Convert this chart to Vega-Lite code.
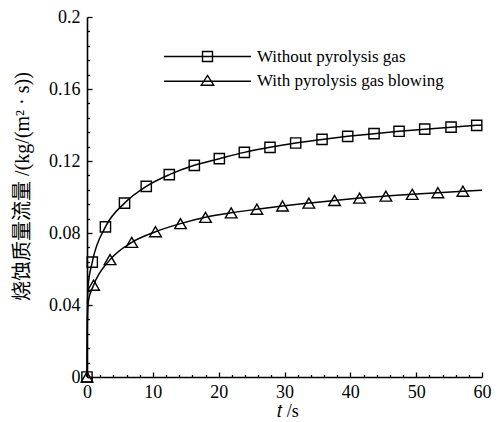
{
  "$schema": "https://vega.github.io/schema/vega-lite/v6.json",
  "width": 395,
  "height": 360,
  "autosize": "none",
  "padding": {"left": 87, "top": 17, "right": 17, "bottom": 45},
  "background": "white",
  "config": {
    "view": {"stroke": null},
    "font": "Liberation Serif",
    "axis": {
      "grid": false,
      "tickColor": "black",
      "tickWidth": 1.3,
      "domainColor": "black",
      "domainWidth": 1.6,
      "labelOverlap": false,
      "labelFlush": false,
      "labelBound": false,
      "labelFont": "Liberation Serif",
      "labelFontSize": 18,
      "labelColor": "black",
      "titleFontWeight": "normal",
      "titleColor": "black"
    }
  },
  "data": {
    "values": [
      {"series": "Without pyrolysis gas", "t": 0, "m": 0, "marker": true},
      {"series": "Without pyrolysis gas", "t": 0.05, "m": 0.035, "marker": false},
      {"series": "Without pyrolysis gas", "t": 0.15, "m": 0.05, "marker": false},
      {"series": "Without pyrolysis gas", "t": 0.8, "m": 0.0638, "marker": true},
      {"series": "Without pyrolysis gas", "t": 2.8, "m": 0.0834, "marker": true},
      {"series": "Without pyrolysis gas", "t": 5.7, "m": 0.0966, "marker": true},
      {"series": "Without pyrolysis gas", "t": 9.0, "m": 0.1059, "marker": true},
      {"series": "Without pyrolysis gas", "t": 12.5, "m": 0.1124, "marker": true},
      {"series": "Without pyrolysis gas", "t": 16.3, "m": 0.1176, "marker": true},
      {"series": "Without pyrolysis gas", "t": 20.1, "m": 0.1213, "marker": true},
      {"series": "Without pyrolysis gas", "t": 23.9, "m": 0.1248, "marker": true},
      {"series": "Without pyrolysis gas", "t": 27.8, "m": 0.1276, "marker": true},
      {"series": "Without pyrolysis gas", "t": 31.7, "m": 0.1300, "marker": true},
      {"series": "Without pyrolysis gas", "t": 35.7, "m": 0.1320, "marker": true},
      {"series": "Without pyrolysis gas", "t": 39.6, "m": 0.1337, "marker": true},
      {"series": "Without pyrolysis gas", "t": 43.6, "m": 0.1352, "marker": true},
      {"series": "Without pyrolysis gas", "t": 47.4, "m": 0.1365, "marker": true},
      {"series": "Without pyrolysis gas", "t": 51.3, "m": 0.1377, "marker": true},
      {"series": "Without pyrolysis gas", "t": 55.3, "m": 0.1388, "marker": true},
      {"series": "Without pyrolysis gas", "t": 59.2, "m": 0.1398, "marker": true},
      {"series": "Without pyrolysis gas", "t": 60, "m": 0.1400, "marker": false},
      {"series": "With pyrolysis gas blowing", "t": 0, "m": 0, "marker": true},
      {"series": "With pyrolysis gas blowing", "t": 0.05, "m": 0.03, "marker": false},
      {"series": "With pyrolysis gas blowing", "t": 0.2, "m": 0.042, "marker": false},
      {"series": "With pyrolysis gas blowing", "t": 1.0, "m": 0.0510, "marker": true},
      {"series": "With pyrolysis gas blowing", "t": 3.5, "m": 0.0652, "marker": true},
      {"series": "With pyrolysis gas blowing", "t": 6.8, "m": 0.0748, "marker": true},
      {"series": "With pyrolysis gas blowing", "t": 10.4, "m": 0.0807, "marker": true},
      {"series": "With pyrolysis gas blowing", "t": 14.2, "m": 0.0852, "marker": true},
      {"series": "With pyrolysis gas blowing", "t": 18.0, "m": 0.0887, "marker": true},
      {"series": "With pyrolysis gas blowing", "t": 21.9, "m": 0.0912, "marker": true},
      {"series": "With pyrolysis gas blowing", "t": 25.8, "m": 0.0932, "marker": true},
      {"series": "With pyrolysis gas blowing", "t": 29.7, "m": 0.0950, "marker": true},
      {"series": "With pyrolysis gas blowing", "t": 33.7, "m": 0.0966, "marker": true},
      {"series": "With pyrolysis gas blowing", "t": 37.6, "m": 0.0981, "marker": true},
      {"series": "With pyrolysis gas blowing", "t": 41.4, "m": 0.0994, "marker": true},
      {"series": "With pyrolysis gas blowing", "t": 45.4, "m": 0.1005, "marker": true},
      {"series": "With pyrolysis gas blowing", "t": 49.4, "m": 0.1015, "marker": true},
      {"series": "With pyrolysis gas blowing", "t": 53.3, "m": 0.1024, "marker": true},
      {"series": "With pyrolysis gas blowing", "t": 57.1, "m": 0.1032, "marker": true},
      {"series": "With pyrolysis gas blowing", "t": 60, "m": 0.1037, "marker": false}
    ]
  },
  "resolve": {"scale": {"x": "independent", "y": "independent"}},
  "layer": [
    {
      "mark": {"type": "line", "interpolate": "monotone", "strokeWidth": 1.5},
      "encoding": {
        "x": {
          "field": "t",
          "type": "quantitative",
          "scale": {"domain": [0, 60], "nice": false, "zero": false},
          "axis": {
            "orient": "bottom",
            "title": "𝑡 /s",
            "values": [0, 10, 20, 30, 40, 50, 60],
            "tickSize": -5,
            "labelPadding": 11,
            "titleFont": "Liberation Serif",
            "titleFontSize": 18,
            "titleX": 200.5,
            "titleY": 25,
            "titleBaseline": "top",
            "titleAlign": "center"
          }
        },
        "y": {
          "field": "m",
          "type": "quantitative",
          "scale": {"domain": [0, 0.2], "nice": false},
          "axis": {
            "orient": "left",
            "title": "烧蚀质量流量 /(kg/(m² · s))",
            "values": [0, 0.04, 0.08, 0.12, 0.16, 0.2],
            "labelExpr": "format(datum.value, '.2~f')",
            "tickSize": -5,
            "labelPadding": 12,
            "titleFont": "Liberation Serif, Noto Sans CJK SC",
            "titleFontSize": 20,
            "titleX": -64.5,
            "titleY": 169,
            "titleAngle": -90,
            "titleBaseline": "middle",
            "titleAlign": "center"
          }
        },
        "color": {
          "field": "series",
          "type": "nominal",
          "scale": {"domain": ["Without pyrolysis gas", "With pyrolysis gas blowing"], "range": ["black", "black"]},
          "legend": {
            "title": null,
            "orient": "none",
            "legendX": 112,
            "legendY": 31,
            "padding": 0,
            "rowPadding": 6.7,
            "symbolSize": 100,
            "symbolType": {"expr": "datum.value === 'Without pyrolysis gas' ? 'M-8.7,0H8.7M-1,-1H1V1H-1Z' : 'M-8.7,0H8.7M0,-1.15L1.25,0.8H-1.25Z'"},
            "symbolStrokeColor": "black",
            "symbolFillColor": "transparent",
            "symbolStrokeWidth": 1.4,
            "symbolOpacity": 1,
            "labelOffset": 41,
            "labelLimit": 0,
            "labelFont": "Liberation Serif",
            "labelFontSize": 17,
            "labelColor": "black"
          }
        }
      }
    },
    {
      "transform": [{"filter": "datum.marker && datum.series === 'Without pyrolysis gas'"}],
      "mark": {"type": "point", "shape": "square", "filled": false, "color": "black", "strokeWidth": 1.4, "opacity": 1, "size": 105},
      "encoding": {
        "x": {
          "field": "t",
          "type": "quantitative",
          "scale": {"domain": [0, 60], "nice": false, "zero": false},
          "axis": {
            "orient": "bottom",
            "title": null,
            "values": [2, 4, 6, 8, 12, 14, 16, 18, 22, 24, 26, 28, 32, 34, 36, 38, 42, 44, 46, 48, 52, 54, 56, 58],
            "tickSize": -2.5,
            "labels": false,
            "domain": false
          }
        },
        "y": {
          "field": "m",
          "type": "quantitative",
          "scale": {"domain": [0, 0.2], "nice": false},
          "axis": {
            "orient": "left",
            "title": null,
            "values": [0.008, 0.016, 0.024, 0.032, 0.048, 0.056, 0.064, 0.072, 0.088, 0.096, 0.104, 0.112, 0.128, 0.136, 0.144, 0.152, 0.168, 0.176, 0.184, 0.192],
            "tickSize": -2.5,
            "labels": false,
            "domain": false
          }
        }
      }
    },
    {
      "transform": [{"filter": "datum.marker && datum.series === 'With pyrolysis gas blowing'"}],
      "mark": {"type": "point", "shape": "triangle-up", "filled": false, "color": "black", "strokeWidth": 1.4, "opacity": 1, "size": 135},
      "encoding": {
        "x": {
          "field": "t",
          "type": "quantitative",
          "scale": {"domain": [0, 60], "nice": false, "zero": false},
          "axis": null
        },
        "y": {
          "field": "m",
          "type": "quantitative",
          "scale": {"domain": [0, 0.2], "nice": false},
          "axis": null
        }
      }
    }
  ]
}
